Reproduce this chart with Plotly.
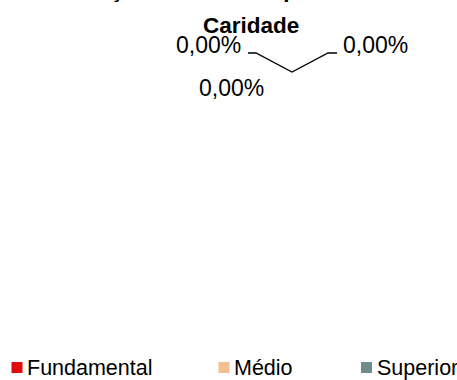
import plotly.graph_objects as go

# Distribution of students by schooling level
categories = ["Fundamental", "Médio", "Superior"]
values = [0, 0, 0]
colors = ["#E20A0A", "#F3C18F", "#6F8B8B"]

title_lines = ["Escolarização dos Alunos por Sociedade de", "Caridade"]

W, H = 457, 380
FONT = "Liberation Sans, Arial, sans-serif"

total = sum(values)
shares = [(v / total if total else 0.0) for v in values]


def pct(s):
    return f"{s * 100:.2f}%".replace(".", ",")


labels = [pct(s) for s in shares]

# Pie geometry (pixel space): every slice is empty, so all slices collapse to
# the start angle at 12 o'clock and the labels are pushed apart around it.
edge_x, edge_y = 292, 72          # point on the rim where the empty slices sit
elbow_dx, elbow_dy = 36, 19       # from rim point to leader elbows
tail = 9                          # horizontal run of each leader line

fig = go.Figure()

# Leader lines of the two side labels
lx_left = edge_x - elbow_dx
lx_right = edge_x + elbow_dx
ly = edge_y - elbow_dy
fig.add_trace(go.Scatter(
    x=[lx_right + tail, lx_right, edge_x, lx_left, lx_left - tail + 1],
    y=[ly, ly, edge_y, ly, ly],
    mode="lines", line=dict(color="black", width=1.3),
    hoverinfo="skip", showlegend=False,
))

# Legend swatches
leg_x = [17, 224, 366.5]
leg_y = 367.5
fig.add_trace(go.Scatter(
    x=leg_x, y=[leg_y] * len(categories), mode="markers",
    marker=dict(symbol="square", size=11, color=colors, line=dict(width=0)),
    hoverinfo="skip", showlegend=False,
))

annotations = []
# Data labels: left, right, bottom
label_pos = [
    (lx_left - tail - 4, 44.5, "right"),
    (lx_right + tail + 4, 44.5, "left"),
    (231.5, 87.5, "center"),
]
for (x, y, anchor), txt in zip(label_pos, labels):
    annotations.append(dict(
        x=x, y=y, xref="x", yref="y", text=txt, showarrow=False,
        xanchor=anchor, yanchor="middle",
        font=dict(family=FONT, size=23, color="black"),
    ))

# Legend labels
for x, name in zip(leg_x, categories):
    annotations.append(dict(
        x=x + 8, y=368, xref="x", yref="y", text=name, showarrow=False,
        xanchor="left", yanchor="middle",
        font=dict(family=FONT, size=21.5, color="black"),
    ))

# Title: the first line runs above the top edge of the page
annotations.append(dict(
    x=-3 / W, y=1 + 10 / H, xref="paper", yref="paper",
    text=f"<b>{title_lines[0]}</b>",
    showarrow=False, xanchor="left", yanchor="middle",
    font=dict(family=FONT, size=22.5, color="black"),
))
annotations.append(dict(
    x=251, y=25.5, xref="x", yref="y", text=f"<b>{title_lines[1]}</b>",
    showarrow=False, xanchor="center", yanchor="middle",
    font=dict(family=FONT, size=22.5, color="black"),
))

fig.update_layout(
    width=W, height=H,
    margin=dict(l=0, r=0, t=0, b=0),
    paper_bgcolor="white", plot_bgcolor="white",
    xaxis=dict(range=[0, W], visible=False, fixedrange=True),
    yaxis=dict(range=[H, 0], visible=False, fixedrange=True),
    annotations=annotations,
    showlegend=False,
)
fig.update_xaxes(showgrid=False, zeroline=False)
fig.update_yaxes(showgrid=False, zeroline=False)

fig.write_html("out.html")
